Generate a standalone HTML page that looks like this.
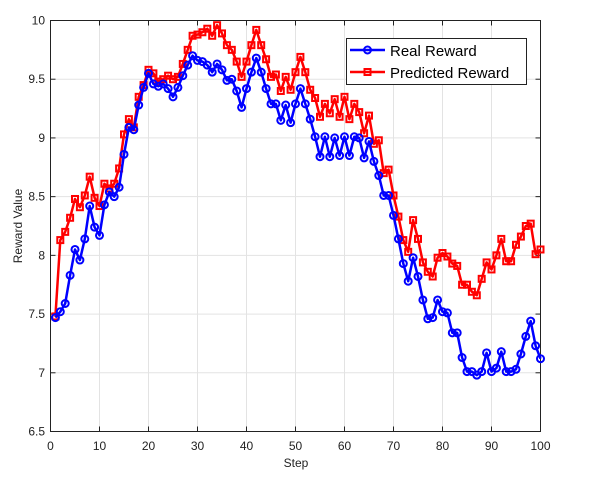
<!DOCTYPE html>
<html><head><meta charset="utf-8"><style>
html,body{margin:0;padding:0;background:#fff;}
svg text{font-family:"Liberation Sans",Helvetica,Arial,sans-serif;}
</style></head><body>
<svg id="chart" width="601" height="483" viewBox="0 0 601 483" xmlns="http://www.w3.org/2000/svg">
<rect x="0" y="0" width="601" height="483" fill="#fff"/>
<g id="grid"></g>
<g id="axes"></g>
<g id="series"></g>
<text x="296" y="467" font-size="12" text-anchor="middle" fill="#222">Step</text>
<text x="0" y="0" font-size="12" text-anchor="middle" fill="#222" transform="translate(22,226) rotate(-90)">Reward Value</text>
<g>
<rect x="346.5" y="38.5" width="180" height="46" fill="#fff" stroke="#222" stroke-width="1"/>
<g>
<line x1="350" y1="50" x2="385" y2="50" stroke="#0000ff" stroke-width="2.5"/>
<circle cx="367.5" cy="50" r="3.5" fill="none" stroke="#0000ff" stroke-width="2"/>
<text x="390" y="56" font-size="15" fill="#000">Real Reward</text>
</g>
<g>
<line x1="350" y1="72" x2="385" y2="72" stroke="#ff0000" stroke-width="2.5"/>
<rect x="364.5" y="69" width="6" height="6" fill="none" stroke="#ff0000" stroke-width="2"/>
<text x="390" y="78" font-size="15" fill="#000">Predicted Reward</text>
</g>
</g>
</svg>
<script>
const steps = Array.from({length:100},(_, i)=>i+1);
const realReward = [7.47,7.52,7.59,7.83,8.05,7.96,8.14,8.42,8.24,8.17,8.43,8.54,8.50,8.58,8.86,9.09,9.07,9.28,9.43,9.55,9.46,9.44,9.46,9.42,9.35,9.43,9.53,9.62,9.70,9.66,9.65,9.62,9.56,9.63,9.58,9.49,9.50,9.40,9.26,9.42,9.56,9.68,9.56,9.42,9.29,9.29,9.15,9.28,9.13,9.29,9.42,9.29,9.16,9.01,8.84,9.01,8.84,9.00,8.85,9.01,8.85,9.01,9.00,8.83,8.97,8.80,8.68,8.51,8.51,8.34,8.14,7.93,7.78,7.98,7.82,7.62,7.46,7.47,7.62,7.52,7.51,7.34,7.34,7.13,7.01,7.01,6.98,7.01,7.17,7.01,7.04,7.18,7.01,7.01,7.03,7.16,7.31,7.44,7.23,7.12];
const predictedReward = [7.48,8.13,8.20,8.32,8.48,8.41,8.51,8.67,8.49,8.42,8.61,8.57,8.61,8.74,9.03,9.16,9.09,9.35,9.45,9.58,9.55,9.48,9.50,9.53,9.50,9.52,9.63,9.75,9.87,9.88,9.90,9.93,9.87,9.96,9.89,9.79,9.75,9.65,9.52,9.65,9.79,9.92,9.79,9.67,9.52,9.54,9.40,9.52,9.41,9.56,9.69,9.56,9.41,9.34,9.18,9.29,9.21,9.33,9.18,9.35,9.16,9.29,9.22,9.04,9.19,8.95,8.98,8.70,8.73,8.51,8.33,8.13,8.03,8.30,8.14,7.94,7.86,7.82,7.98,8.02,7.99,7.93,7.91,7.75,7.75,7.69,7.66,7.80,7.94,7.88,8.00,8.14,7.95,7.95,8.09,8.16,8.25,8.27,8.01,8.05];
const xTicks = [0,10,20,30,40,50,60,70,80,90,100];
const yTicks = [6.5,7,7.5,8,8.5,9,9.5,10];
const yTickLabels = ["6.5","7","7.5","8","8.5","9","9.5","10"];

const L=50.5,R=540.5,T=20.5,B=431.5;
const xs=v=>L+(v-0)/(100-0)*(R-L);
const ys=v=>B-(v-6.5)/(10-6.5)*(B-T);
const NS="http://www.w3.org/2000/svg";
function mk(tag,attrs,parent){const e=document.createElementNS(NS,tag);for(const k in attrs)e.setAttribute(k,attrs[k]);parent.appendChild(e);return e;}
const grid=document.getElementById('grid'),axes=document.getElementById('axes'),ser=document.getElementById('series');
xTicks.forEach(t=>{
  const x=xs(t);
  const g=mk('line',{x1:x,y1:T,x2:x,y2:B,stroke:'#e3e3e3','stroke-width':1},grid);
  
  
  const tk=mk('line',{x1:x,y1:B,x2:x,y2:B-5,stroke:'#222','stroke-width':1},axes);
  
  
  const tk2=mk('line',{x1:x,y1:T,x2:x,y2:T+5,stroke:'#222','stroke-width':1},axes);
  
  
  const lb=mk('text',{x:x,y:450,'font-size':12,'text-anchor':'middle',fill:'#222'},axes);
  lb.textContent=String(t);
  
  
});
yTicks.forEach((t,i)=>{
  const y=ys(t);
  const g=mk('line',{x1:L,y1:y,x2:R,y2:y,stroke:'#e3e3e3','stroke-width':1},grid);
  
  
  const tk=mk('line',{x1:L,y1:y,x2:L+5,y2:y,stroke:'#222','stroke-width':1},axes);
  
  
  const tk2=mk('line',{x1:R,y1:y,x2:R-5,y2:y,stroke:'#222','stroke-width':1},axes);
  
  
  const lb=mk('text',{x:45,y:y+4,'font-size':12,'text-anchor':'end',fill:'#222'},axes);
  lb.textContent=yTickLabels[i];
  
  
});
const box=mk('rect',{x:L,y:T,width:R-L,height:B-T,fill:'none',stroke:'#222','stroke-width':1},axes);



function drawSeries(vals,color,marker,name){
  const g=mk('g',{},ser);
  
  
  const pts=vals.map((v,i)=>xs(steps[i]).toFixed(2)+','+ys(v).toFixed(2)).join(' ');
  const pl=mk('polyline',{points:pts,fill:'none',stroke:color,'stroke-width':2.5,'stroke-linejoin':'round'},g);
  
  
  vals.forEach((v,i)=>{
    const x=xs(steps[i]),y=ys(v);
    let m;
    if(marker==='circle') m=mk('circle',{cx:x,cy:y,r:3.5,fill:'none',stroke:color,'stroke-width':2},g);
    else m=mk('rect',{x:x-3,y:y-3,width:6,height:6,fill:'none',stroke:color,'stroke-width':2},g);
    
    
  });
}
drawSeries(predictedReward,'#ff0000','square','predicted-reward-series');
drawSeries(realReward,'#0000ff','circle','real-reward-series');
</script>
</body></html>
